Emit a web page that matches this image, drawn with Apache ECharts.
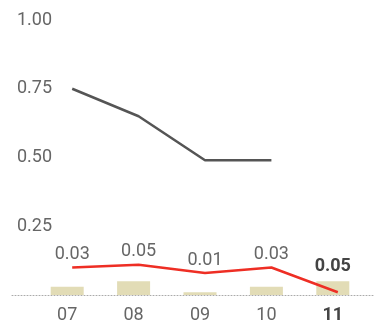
<!DOCTYPE html>
<html>
<head>
<meta charset="utf-8">
<script src="https://cdn.jsdelivr.net/npm/echarts@6/dist/echarts.min.js"></script>
<style>
  html, body { margin: 0; padding: 0; background: #fff; }
  #chart { width: 375px; height: 332px; }
</style>
</head>
<body>
<div id="chart"></div>
<script>
// data
var months = ['07', '08', '09', '10', '11'];
var greyLine = [0.75, 0.65, 0.49, 0.49, null];
var redLine = [0.10, 0.11, 0.08, 0.10, 0.01];
var barValues = [0.03, 0.05, 0.01, 0.03, 0.05];
var yTicks = { min: 0, max: 1, interval: 0.25 };

var FONT = 'Roboto, "Noto Sans", sans-serif';
var last = months.length - 1;

var chart = echarts.init(document.getElementById('chart'), null, { renderer: 'canvas' });

var option = {
  animation: false,
  textStyle: { fontFamily: FONT },
  grid: [
    { left: 34, right: 9, top: 20, bottom: 37 },   // bars + axes
    { left: 12, right: 0, top: 20, bottom: 37 },   // dotted baseline
    { left: 39, right: 4, top: 20, bottom: 37 }    // lines (sit a bit to the right)
  ],
  xAxis: [{
    gridIndex: 0,
    type: 'category',
    data: months,
    axisLine: { show: false },
    axisTick: { show: false },
    axisLabel: {
      margin: 11,
      fontSize: 18,
      color: '#666',
      fontFamily: FONT,
      formatter: function (v, i) {
        return i === last ? '{b|' + v + '}' : v;
      },
      rich: {
        b: { fontSize: 18, fontWeight: 'bold', color: '#444', fontFamily: FONT }
      }
    }
  }, {
    gridIndex: 1,
    type: 'category',
    data: months,
    axisLine: { show: true, lineStyle: { color: '#aaa', type: [1, 2], width: 1 } },
    axisTick: { show: false },
    axisLabel: { show: false }
  }, {
    gridIndex: 2,
    type: 'category',
    data: months,
    show: false
  }],
  yAxis: [{
    gridIndex: 0,
    type: 'value',
    min: yTicks.min, max: yTicks.max, interval: yTicks.interval,
    splitLine: { show: false },
    axisLine: { show: false },
    axisTick: { show: false },
    axisLabel: {
      align: 'left',
      margin: 17,
      fontSize: 18,
      color: '#666',
      fontFamily: FONT,
      formatter: function (v) { return v === 0 ? '' : v.toFixed(2); }
    }
  }, {
    gridIndex: 1,
    type: 'value',
    min: yTicks.min, max: yTicks.max,
    show: false
  }, {
    gridIndex: 2,
    type: 'value',
    min: yTicks.min, max: yTicks.max,
    show: false
  }],
  series: [{
    type: 'bar',
    xAxisIndex: 0, yAxisIndex: 0,
    data: barValues.map(function (v, i) {
      return {
        value: v,
        label: {
          show: i === last,
          position: 'top',
          distance: 6,
          fontSize: 18,
          fontWeight: 'bold',
          color: '#444',
          fontFamily: FONT,
          formatter: function (p) { return p.value.toFixed(2); }
        }
      };
    }),
    barWidth: 33,
    itemStyle: { color: '#e2dcb6' }
  }, {
    type: 'line',
    xAxisIndex: 2, yAxisIndex: 2,
    data: greyLine,
    symbol: 'none',
    lineStyle: { color: '#555', width: 2.5 }
  }, {
    type: 'line',
    xAxisIndex: 2, yAxisIndex: 2,
    data: redLine,
    symbol: 'circle',
    symbolSize: 0,
    showSymbol: true,
    z: 5,
    lineStyle: { color: '#ee2e24', width: 2.5 },
    itemStyle: { color: '#ee2e24', opacity: 0 },
    label: {
      show: true,
      position: 'top',
      distance: 4,
      fontSize: 18,
      color: '#666',
      opacity: 1,
      fontFamily: FONT,
      formatter: function (p) {
        return p.dataIndex === last ? '' : barValues[p.dataIndex].toFixed(2);
      }
    },
    labelLayout: { hideOverlap: false }
  }]
};

chart.setOption(option);
</script>
</body>
</html>
